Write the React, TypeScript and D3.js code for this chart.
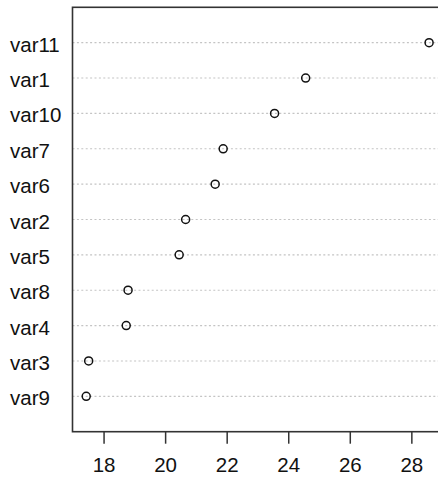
import React from 'react';
import * as d3 from 'd3';

const labels = ['var9', 'var3', 'var4', 'var8', 'var5', 'var2', 'var6', 'var7', 'var10', 'var1', 'var11'];
const values = [17.42, 17.5, 18.72, 18.78, 20.44, 20.65, 21.61, 21.87, 23.54, 24.55, 28.56];
const xTicks = [18, 20, 22, 24, 26, 28];

const App = () => {
    const width = 438, height = 478;
    const box = { left: 72.5, right: 442.8, top: 7.3, bottom: 431.7 };
    const font = '"Liberation Sans", Arial, sans-serif';

    // R style 4% padding on the value axis
    const lo = d3.min(values), hi = d3.max(values);
    const pad = (hi - lo) * 0.04;
    const x = d3.scaleLinear().domain([lo - pad, hi + pad]).range([box.left, box.right]);
    const y = d3.scaleLinear().domain([0, labels.length + 1]).range([box.bottom, box.top]);

    return (
        <svg width={width} height={height} style={{ position: 'absolute', left: 0, top: 0, background: '#fff' }}>
            {labels.map((d, i) => (
                <g key={d}>
                    <line x1={box.left} x2={box.right} y1={y(i + 1)} y2={y(i + 1)}
                        stroke="#c4c4c4" strokeWidth={1.1} strokeDasharray="2,2.4" />
                    <text x={10} y={y(i + 1)} dy={9} fontFamily={font} fontSize={20.5} fill="#111">{d}</text>
                    <circle cx={x(values[i])} cy={y(i + 1)} r={4} fill="none" stroke="#111" strokeWidth={1.5} />
                </g>
            ))}
            <rect x={box.left} y={box.top} width={box.right - box.left} height={box.bottom - box.top}
                fill="none" stroke="#333" strokeWidth={1.6} />
            {xTicks.map(t => (
                <g key={t} transform={`translate(${x(t)},0)`}>
                    <line y1={box.bottom} y2={box.bottom + 12} stroke="#333" strokeWidth={1.5} />
                    <text y={472} textAnchor="middle" fontFamily={font} fontSize={20.5} fill="#111">{t}</text>
                </g>
            ))}
        </svg>
    );
};

export default App;
